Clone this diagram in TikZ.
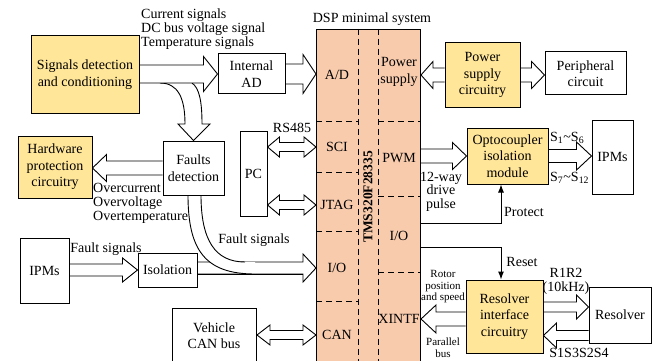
\documentclass[tikz,border=0pt]{standalone}
\usepackage{fontspec}
\setmainfont{Liberation Serif}
\usetikzlibrary{calc,arrows.meta}
\definecolor{dspfill}{HTML}{F8CBAD}
\definecolor{gold}{HTML}{FFE699}
\pgfdeclarelayer{bg}
\pgfsetlayers{bg,main}

% hollow block arrows: #1 source point, #2 tip point, #3 shaft half width,
% #4 head half width, #5 head length (all in pt)
\newcommand\fatR[5]{\filldraw[fat] let \p1=(#1), \p2=(#2) in
  (\x1,\y2+#3pt) -- (\x2-#5pt,\y2+#3pt) -- (\x2-#5pt,\y2+#4pt) -- (\x2,\y2)
  -- (\x2-#5pt,\y2-#4pt) -- (\x2-#5pt,\y2-#3pt) -- (\x1,\y2-#3pt);}
\newcommand\fatL[5]{\filldraw[fat] let \p1=(#1), \p2=(#2) in
  (\x1,\y2+#3pt) -- (\x2+#5pt,\y2+#3pt) -- (\x2+#5pt,\y2+#4pt) -- (\x2,\y2)
  -- (\x2+#5pt,\y2-#4pt) -- (\x2+#5pt,\y2-#3pt) -- (\x1,\y2-#3pt);}
\newcommand\fatLR[5]{\filldraw[fat] let \p1=(#1), \p2=(#2) in
  (\x1,\y2) -- (\x1+#5pt,\y2+#4pt) -- (\x1+#5pt,\y2+#3pt) -- (\x2-#5pt,\y2+#3pt)
  -- (\x2-#5pt,\y2+#4pt) -- (\x2,\y2) -- (\x2-#5pt,\y2-#4pt) -- (\x2-#5pt,\y2-#3pt)
  -- (\x1+#5pt,\y2-#3pt) -- (\x1+#5pt,\y2-#4pt) -- cycle;}

\begin{document}
\begin{tikzpicture}[x=1pt,y=-1pt,
  font=\fontsize{14}{16.5}\selectfont,
  every node/.style={inner sep=0pt},
  box/.style={draw, line width=1pt, fill=white, align=center},
  goldbox/.style={box, fill=gold},
  port/.style={align=center},
  stack/.style={align=left, font=\fontsize{14}{14}\selectfont},
  fat/.style={draw, fill=white, line width=0.9pt, line join=miter},
  thinarrow/.style={line width=1pt, -{Latex[length=8pt,width=6pt]}},
  sep/.style={line width=1pt, dash pattern=on 6pt off 4pt}]

\useasboundingbox (0,0) rectangle (659,361);
\clip (0,0) rectangle (659,361);

% ---------- DSP minimal system ----------
\node[draw, line width=1pt, fill=dspfill, minimum width=104pt, minimum height=360pt,
      anchor=north west] (dsp) at (316,29) {};
\node (dsptitle) at (372,19) {DSP minimal system};
\draw[sep] (358,29) -- (358,361);
\draw[sep] (378,29) -- (378,361);
\foreach \y in {121,172,231,301} \draw[sep] (316,\y) -- (358,\y);
\foreach \y in {121,196,272} \draw[sep] (378,\y) -- (420,\y);
\node[rotate=90, font=\fontsize{13.5}{14}\selectfont\bfseries] (chip) at (368,197) {TMS320F28335};

\node[port] (pAD)    at (337,75)  {A/D};
\node[port] (pSCI)   at (337,147) {SCI};
\node[port] (pJTAG)  at (337,205) {JTAG};
\node[port] (pIO)    at (337,268) {I/O};
\node[port] (pCAN)   at (337,335) {CAN};
\node[port] (pPow)   at (399,72)  {Power\\supply};
\node[port] (pPWM)   at (399,158) {PWM};
\node[port] (pIO2)   at (399,236) {I/O};
\node[port] (pXINTF) at (399,319) {XINTF};

% ---------- left side blocks ----------
\node[goldbox, minimum width=108pt, minimum height=77pt] (sdc) at (85,74.5) {Signals detection\\and conditioning};
\node[box, minimum width=67pt, minimum height=40pt] (ad) at (251.5,74) {Internal\\AD};
\node[goldbox, minimum width=74pt, minimum height=62pt] (hpc) at (55,167) {Hardware\\protection\\circuitry};
\node[box, minimum width=61pt, minimum height=54pt] (fd) at (193.5,168) {Faults\\detection};
\node[box, minimum width=27pt, minimum height=85pt] (pc) at (253.5,173.5) {PC};
\node[box, minimum width=49pt, minimum height=65pt] (ipml) at (44.5,270.5) {IPMs};
\node[box, minimum width=59pt, minimum height=34pt] (iso) at (167.5,270) {Isolation};
\node[box, minimum width=84pt, minimum height=80pt, anchor=north west] (canbus) at (172,308) {};
\node[port] (cantext) at (214,335.5) {Vehicle\\CAN bus};

% ---------- right side blocks ----------
\node[goldbox, minimum width=75pt, minimum height=64pt] (psc) at (482.5,75) {Power\\supply\\circuitry};
\node[box, minimum width=81pt, minimum height=43pt] (per) at (585.5,73.5) {Peripheral\\circuit};
\node[goldbox, minimum width=81pt, minimum height=56pt] (opto) at (507.5,156) {Optocoupler\\isolation\\module};
\node[box, minimum width=41pt, minimum height=74pt] (ipmr) at (612.5,157) {IPMs};
\node[goldbox, minimum width=77pt, minimum height=73pt] (ric) at (504.5,316.5) {Resolver\\interface\\circuitry};
\node[box, minimum width=62pt, minimum height=56pt] (res) at (620,315) {Resolver};

% ---------- labels ----------
\node[stack, anchor=west] (sigs) at (141,29) {Current signals\\DC bus voltage signal\\Temperature signals};
\node (rs) at (292,128) {RS485};
\node[stack, anchor=west] (over) at (93,203) {Overcurrent\\Overvoltage\\Overtemperature};
\node (fs1) at (254,240) {Fault signals};
\node (fs2) at (106,249) {Fault signals};
\node[align=center, font=\fontsize{14}{13.5}\selectfont] (drv) at (441,191.5) {12-way\\drive\\pulse};
\node[anchor=west] (s16) at (550,138) {S\textsubscript{1}\textasciitilde S\textsubscript{6}};
\node[anchor=west] (s712) at (550,178) {S\textsubscript{7}\textasciitilde S\textsubscript{12}};
\node (prot) at (524,212) {Protect};
\node (rst) at (522,262) {Reset};
\node[align=center, font=\fontsize{14}{14}\selectfont] (r12) at (566,281) {R1R2\\(10kHz)};
\node (s1324) at (579,353) {S1S3S2S4};
\node[align=center, font=\fontsize{11}{11.5}\selectfont] (rot) at (443,287) {Rotor\\position\\and speed};
\node[align=center, font=\fontsize{11}{11.5}\selectfont] (pbus) at (443,347.5) {Parallel\\bus};

% ---------- connectors ----------
\coordinate (pj) at (501,223);
\coordinate (rj) at (501,247);
\draw[thinarrow] (dsp.east |- pj) -- (pj) -- (pj |- opto.south);
\draw[thinarrow] (dsp.east |- rj) -- (rj) -- (rj |- ric.north);

\begin{pgfonlayer}{bg}
  % branch from the signal bus down to the fault detector
  \filldraw[fat] (160,83) .. controls (178,83) and (185,98) .. (185,124) -- (178,124)
    -- (fd.north) -- (210,124) -- (202,124) .. controls (202,100) and (199,88) .. (192,83);
  \fatR{sdc.east}{ad.west}{9}{17.5}{14}
  \fatR{ad.east}{dsp.west |- ad.east}{10}{19.5}{13}
  \fatL{fd.west}{hpc.east |- fd.west}{7}{13.5}{14}
  \fatR{ipml.east}{iso.west}{6}{12}{15}
  % isolation output joined by the fault-detection branch
  \fatR{iso.east}{dsp.west |- pIO}{6}{14}{13}
  \fill[white] (188,195) .. controls (188,250) and (205,274) .. (255,274) -- (255,262)
    -- (245,262) .. controls (215,262) and (201,240) .. (201,195) -- cycle;
  \draw[line width=0.9pt] (188,195) .. controls (188,250) and (205,274) .. (255,274);
  \draw[line width=0.9pt] (201,195) .. controls (201,240) and (215,262) .. (245,262);
  \draw[line width=0.9pt] let \p1=(iso.east), \p2=(dsp.west |- pIO) in
    (\x1,\y2-6pt) -- (\x2-13pt,\y2-6pt);
  \fatLR{pc.east |- pSCI}{dsp.west |- pSCI}{4.5}{10}{12}
  \fatLR{pc.east |- pJTAG}{dsp.west |- pJTAG}{4.5}{10}{12}
  \fatLR{canbus.east |- pCAN}{dsp.west |- pCAN}{4.5}{10}{13}
  \fatL{psc.west}{dsp.east |- psc.west}{7}{13.5}{12}
  \fatR{psc.east}{per.west |- psc.east}{7}{13.5}{13}
  \fatR{dsp.east |- opto.west}{opto.west}{7}{13.5}{14}
  \fatR{opto.east}{ipmr.west |- opto.east}{6.5}{14}{15}
  \fatL{ric.west |- pXINTF}{dsp.east |- pXINTF}{7}{14}{15}
  \fatR{ric.east}{[yshift=8pt]res.west}{5}{12}{12}
  \fatL{res.west}{[yshift=-19pt]ric.east}{5}{12.5}{13}
\end{pgfonlayer}
\end{tikzpicture}
\end{document}
